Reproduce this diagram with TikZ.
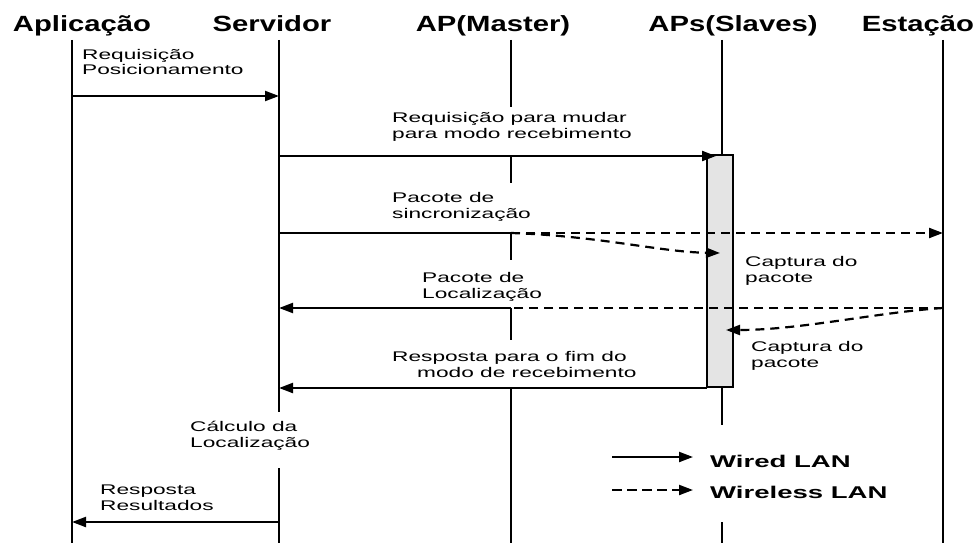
\documentclass[tikz,border=0pt]{standalone}
\usepackage{fontspec}
\setmainfont{Liberation Sans}
\newfontfamily\headfont[FakeStretch=1.33]{Liberation Sans}
\newfontfamily\msgfont[FakeStretch=1.62]{Liberation Sans}
\usetikzlibrary{arrows.meta}
\definecolor{boxgray}{HTML}{E4E4E4}

\begin{document}
\begin{tikzpicture}[x=1pt,y=-1pt,
  head/.style={font=\headfont\bfseries\fontsize{22}{24}\selectfont,inner sep=0pt,anchor=base},
  msg/.style={font=\msgfont\fontsize{14}{16}\selectfont,align=left,inner sep=0pt,anchor=base west},
  legtext/.style={font=\msgfont\bfseries\fontsize{17}{19}\selectfont,inner sep=0pt,anchor=base west},
  life/.style={line width=2.6pt},
  wired/.style={line width=2.2pt,-{Triangle[length=14pt,width=10pt]}},
  wless/.style={wired,dash pattern=on 9pt off 6pt}]

  \useasboundingbox (0,0) rectangle (978,543);

  % heads
  \node[head] (app) at (82,32) {Aplicação};
  \node[head] (srv) at (272,32) {Servidor};
  \node[head] (apm) at (493,32) {AP(Master)};
  \node[head] (aps) at (733,32) {APs(Slaves)};
  \node[head] (sta) at (918,32) {Estação};

  % lifelines, broken where the labels sit
  \draw[life] (72,40) -- (72,543);
  \draw[life] (279,40) -- (279,412) (279,468) -- (279,543);
  \draw[life] (511,40) -- (511,107) (511,156) -- (511,183) (511,233) -- (511,260)
              (511,308) -- (511,340) (511,388) -- (511,543);
  \draw[life] (722,40) -- (722,155) (722,387) -- (722,425) (722,522) -- (722,543);
  \draw[life] (943,40) -- (943,543);

  % receiving window of the slaves
  \draw[line width=2.6pt,fill=boxgray] (707,155) rectangle (733,387);

  % message points
  \coordinate (appA) at (72,96);   \coordinate (srvA) at (279,96);
  \coordinate (srvB) at (279,156); \coordinate (boxB) at (716,156);
  \coordinate (srvC) at (279,233); \coordinate (apmC) at (511,233);
  \coordinate (staC) at (943,233); \coordinate (boxC) at (720,253);
  \coordinate (staD) at (943,308); \coordinate (apmD) at (511,308);
  \coordinate (srvD) at (279,308); \coordinate (boxD) at (726,330);
  \coordinate (boxE) at (707,388); \coordinate (srvE) at (279,388);
  \coordinate (srvF) at (279,522); \coordinate (appF) at (72,522);

  \draw[wired] (appA) -- (srvA);
  \draw[wired] (srvB) -- (boxB);
  \draw[line width=2.2pt] (srvC) -- (apmC);
  \draw[wless] (apmC) -- (staC);
  \draw[wless] (apmC) .. controls (600,236) and (660,252) .. (boxC);
  \draw[wless,-] (staD) -- (apmD);
  \draw[wired] (apmD) -- (srvD);
  \draw[wless] (staD) .. controls (880,312) and (800,330) .. (boxD);
  \draw[wired] (boxE) -- (srvE);
  \draw[wired] (srvF) -- (appF);

  % labels (placed at the baseline of their last line)
  \node[msg] (l1) at (82,75) {Requisição\\Posicionamento};
  \node[msg] (l2) at (392,138) {Requisição para mudar\\para modo recebimento};
  \node[msg] (l3) at (392,218) {Pacote de\\sincronização};
  \node[msg] (l4) at (745,282) {Captura do\\pacote};
  \node[msg] (l5) at (422,298) {Pacote de\\Localização};
  \node[msg] (l6) at (751,367) {Captura do\\pacote};
  \node[msg] (l7) at (392,377) {Resposta para o fim do\\\hspace*{25pt}modo de recebimento};
  \node[msg] (l8) at (190,447) {Cálculo da\\Localização};
  \node[msg] (l9) at (100,510) {Resposta\\Resultados};

  % legend
  \coordinate (lgA) at (612,457); \coordinate (lgB) at (693,457);
  \coordinate (lgC) at (612,490); \coordinate (lgD) at (693,490);
  \draw[wired] (lgA) -- (lgB);
  \draw[wired,dash pattern=on 10pt off 5pt] (lgC) -- (lgD);
  \node[legtext] (wired) at (710,467) {Wired LAN};
  \node[legtext] (wless) at (710,498) {Wireless LAN};
\end{tikzpicture}
\end{document}
